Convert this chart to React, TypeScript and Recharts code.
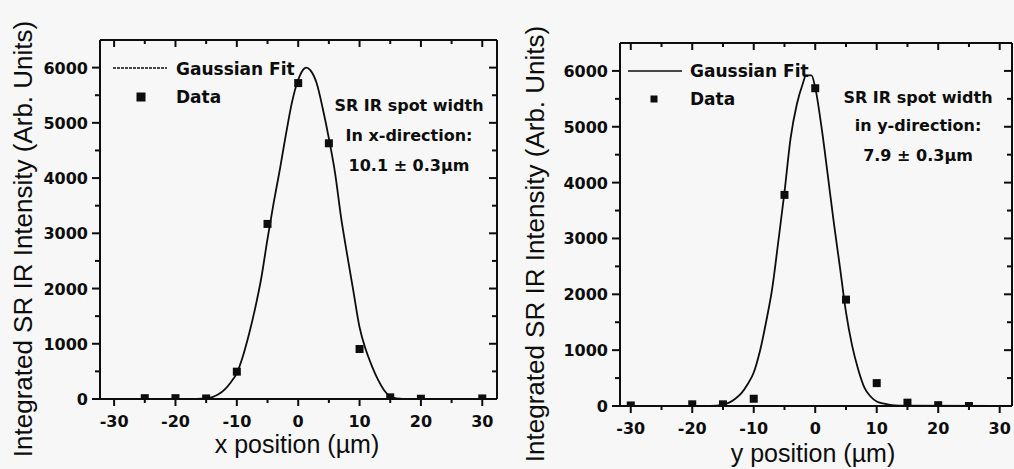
import React from 'react';
import { ComposedChart, Line, Scatter, XAxis, YAxis, Customized } from 'recharts';

// ---- Left panel (x direction) ----
const leftDataX = [-25, -20, -15, -10, -5, 0, 5, 10, 15, 20, 30];
const leftDataY = [15, 15, 10, 495, 3170, 5720, 4630, 905, 30, 5, 10];
const leftFitX = [-32.3, -18, -15, -14, -13, -12, -11, -10, -9, -8, -7, -6, -5, -4, -3, -2, -1, 0, 1, 1.3, 2, 3, 4, 5, 6, 7, 8, 9, 10, 11, 12, 13, 14, 15, 16, 18, 32.4];
const leftFitY = [0, 0, 12, 35, 85, 170, 300, 470, 780, 1180, 1650, 2200, 2900, 3550, 4150, 4790, 5380, 5780, 5985, 6000, 5950, 5720, 5260, 4720, 4100, 3280, 2600, 1950, 1300, 900, 600, 350, 160, 45, 12, 0, 0];

// ---- Right panel (y direction) ----
const rightDataX = [-30, -20, -15, -10, -5, 0, 5, 10, 15, 20, 25];
const rightDataY = [10, 30, 30, 130, 3780, 5690, 1905, 410, 60, 15, 0];
const rightFitX = [-31.75, -17, -15, -14, -13, -12, -11, -10, -9, -8, -7, -6, -5, -4, -3, -2, -1.5, -0.6, 0, 1, 2, 3, 4, 5, 6, 7, 8, 9, 10, 11, 12, 13, 14, 32];
const rightFitY = [0, 0, 25, 60, 130, 230, 390, 600, 980, 1500, 2100, 2950, 3830, 4800, 5400, 5780, 5920, 5920, 5700, 5010, 4170, 3300, 2500, 1680, 1080, 650, 330, 170, 80, 45, 25, 12, 5, 0];

// ---- Ticks / labels ----
const xTicks = [-30, -25, -20, -15, -10, -5, 0, 5, 10, 15, 20, 25, 30];
const yTicks = [0, 500, 1000, 1500, 2000, 2500, 3000, 3500, 4000, 4500, 5000, 5500, 6000];
const yLabel = 'Integrated SR IR Intensity (Arb. Units)';
const leftXLabel = 'x position (\u00b5m)';
const rightXLabel = 'y position (\u00b5m)';
const legendFit = 'Gaussian Fit';
const legendData = 'Data';
const leftNote = ['SR IR spot width', 'In x-direction:', '10.1 \u00b1 0.3\u00b5m'];
const rightNote = ['SR IR spot width', 'in y-direction:', '7.9 \u00b1 0.3\u00b5m'];

const INK = '#0d0d0d';
const BG = '#f6f7f6';
const TICK_FONT = '"DejaVu Sans", sans-serif';
const TITLE_FONT = '"Liberation Sans", Arial, sans-serif';

const toPts = (xs: number[], ys: number[]) => xs.map((x, i) => ({ x, y: ys[i] }));

const xMajor = (v: number) => v % 10 === 0;
const yMajor = (v: number) => v % 1000 === 0;

const makeTick = (side: 'bottom' | 'top' | 'left' | 'right', labels: boolean, isMajor: (v: number) => boolean) => (props: any) => {
  const { x, y, payload } = props;
  const v = payload.value;
  const major = isMajor(v);
  const len = major ? 7 : 4;
  let line;
  let label = null;
  if (side === 'bottom') {
    line = <line x1={x} y1={y} x2={x} y2={y + len} stroke={INK} strokeWidth={2} />;
    if (labels && major) label = <text x={x} y={y + 28} textAnchor="middle" fontFamily={TICK_FONT} fontWeight="bold" fontSize={16} fill={INK}>{v}</text>;
  } else if (side === 'top') {
    line = <line x1={x} y1={y} x2={x} y2={y + len} stroke={INK} strokeWidth={2} />;
  } else if (side === 'left') {
    line = <line x1={x - len - 1} y1={y} x2={x} y2={y} stroke={INK} strokeWidth={2} />;
    if (labels && major) label = <text x={x - 12} y={y + 6} textAnchor="end" fontFamily={TICK_FONT} fontWeight="bold" fontSize={16} fill={INK}>{v}</text>;
  } else {
    line = <line x1={x - len - 1} y1={y} x2={x} y2={y} stroke={INK} strokeWidth={2} />;
  }
  return <g>{line}{label}</g>;
};

type PanelProps = {
  dataX: number[]; dataY: number[]; fitX: number[]; fitY: number[];
  xDomain: [number, number]; width: number; margin: any; yAxisWidth: number; xAxisHeight: number;
  xLabel: string; note: string[]; legendDashed: boolean; legendMarker: number;
  yTitle: { x: number; y: number }; xTitle: { x: number; y: number };
  legend: { x1: number; x2: number; y: number; tx: number; ty1: number; my: number; mx: number; ty2: number };
  noteX: number; noteY: number[];
};

const Panel = (p: PanelProps) => {
  const fit = toPts(p.fitX, p.fitY);
  const pts = toPts(p.dataX, p.dataY);
  return (
    <ComposedChart width={p.width} height={469} margin={p.margin}>
      <XAxis xAxisId="b" dataKey="x" type="number" domain={p.xDomain} allowDataOverflow ticks={xTicks} interval={0}
        tickSize={0} tickMargin={0} tickLine={false} axisLine={{ stroke: INK, strokeWidth: 2 }} height={p.xAxisHeight}
        tick={makeTick('bottom', true, xMajor)}
        label={{ content: () => <text x={p.xTitle.x} y={p.xTitle.y} textAnchor="middle" fontFamily={TITLE_FONT} fontSize={25} fill={INK}>{p.xLabel}</text> }} />
      <XAxis xAxisId="t" dataKey="x" orientation="top" type="number" domain={p.xDomain} allowDataOverflow ticks={xTicks} interval={0}
        tickSize={0} tickMargin={0} tickLine={false} axisLine={{ stroke: INK, strokeWidth: 2 }} height={1}
        tick={makeTick('top', false, xMajor)} />
      <YAxis yAxisId="l" dataKey="y" type="number" domain={[0, 6500]} allowDataOverflow ticks={yTicks} interval={0}
        tickSize={0} tickMargin={0} tickLine={false} axisLine={{ stroke: INK, strokeWidth: 2 }} width={p.yAxisWidth}
        tick={makeTick('left', true, yMajor)}
        label={{ content: () => <text x={p.yTitle.x} y={p.yTitle.y} transform={`rotate(-90 ${p.yTitle.x} ${p.yTitle.y})`} textAnchor="middle" fontFamily={TITLE_FONT} fontSize={26} fill={INK}>{yLabel}</text> }} />
      <YAxis yAxisId="r" dataKey="y" orientation="right" type="number" domain={[0, 6500]} allowDataOverflow ticks={yTicks} interval={0}
        tickSize={0} tickMargin={0} tickLine={false} axisLine={{ stroke: INK, strokeWidth: 2 }} width={1}
        tick={makeTick('right', false, yMajor)} />
      <Line xAxisId="t" yAxisId="r" data={fit} dataKey="y" type="monotone" stroke="none" strokeWidth={0} dot={false} activeDot={false} isAnimationActive={false} />
      <Line xAxisId="b" yAxisId="l" data={fit} dataKey="y" type="monotone" stroke={INK} strokeWidth={1.8} dot={false} isAnimationActive={false} />
      <Scatter xAxisId="b" yAxisId="l" data={pts} dataKey="y" shape="square" fill={INK} isAnimationActive={false} />
      <Customized component={() => (
        <g fontFamily={TICK_FONT} fontWeight="bold" fill={INK}>
          <line x1={p.legend.x1} x2={p.legend.x2} y1={p.legend.y} y2={p.legend.y} stroke={INK} strokeWidth={1.5} strokeDasharray={p.legendDashed ? '3 1' : undefined} />
          <text x={p.legend.tx} y={p.legend.ty1} fontSize={17}>{legendFit}</text>
          <rect x={p.legend.mx - p.legendMarker / 2} y={p.legend.my - p.legendMarker / 2} width={p.legendMarker} height={p.legendMarker} fill={INK} />
          <text x={p.legend.tx} y={p.legend.ty2} fontSize={17}>{legendData}</text>
          {p.note.map((t, i) => (
            <text key={i} x={p.noteX} y={p.noteY[i]} textAnchor="middle" fontSize={16}>{t}</text>
          ))}
        </g>
      )} />
    </ComposedChart>
  );
};

export default function App() {
  return (
    <div style={{ position: 'absolute', left: 0, top: 0, width: 1014, height: 469, background: BG, overflow: 'hidden' }}>
      <div style={{ position: 'absolute', left: 0, top: 0 }}>
        <Panel dataX={leftDataX} dataY={leftDataY} fitX={leftFitX} fitY={leftFitY}
          xDomain={[-32.3, 32.4]} width={510} margin={{ top: 39, right: 12, bottom: 0, left: 0 }}
          yAxisWidth={100} xAxisHeight={70} xLabel={leftXLabel} note={leftNote} legendDashed legendMarker={9}
          yTitle={{ x: 32, y: 239 }} xTitle={{ x: 297, y: 453 }}
          legend={{ x1: 113, x2: 167, y: 68, tx: 176, ty1: 75, mx: 141, my: 97, ty2: 103 }}
          noteX={409} noteY={[111, 141, 171]} />
      </div>
      <div style={{ position: 'absolute', left: 510, top: 0 }}>
        <Panel dataX={rightDataX} dataY={rightDataY} fitX={rightFitX} fitY={rightFitY}
          xDomain={[-31.75, 32]} width={504} margin={{ top: 42, right: 1, bottom: 0, left: 0 }}
          yAxisWidth={110} xAxisHeight={63} xLabel={rightXLabel} note={rightNote} legendDashed={false} legendMarker={7}
          yTitle={{ x: 34, y: 244 }} xTitle={{ x: 303, y: 462 }}
          legend={{ x1: 118, x2: 172, y: 71, tx: 180, ty1: 77, mx: 144, my: 99, ty2: 105 }}
          noteX={408} noteY={[103, 131, 161]} />
      </div>
    </div>
  );
}
